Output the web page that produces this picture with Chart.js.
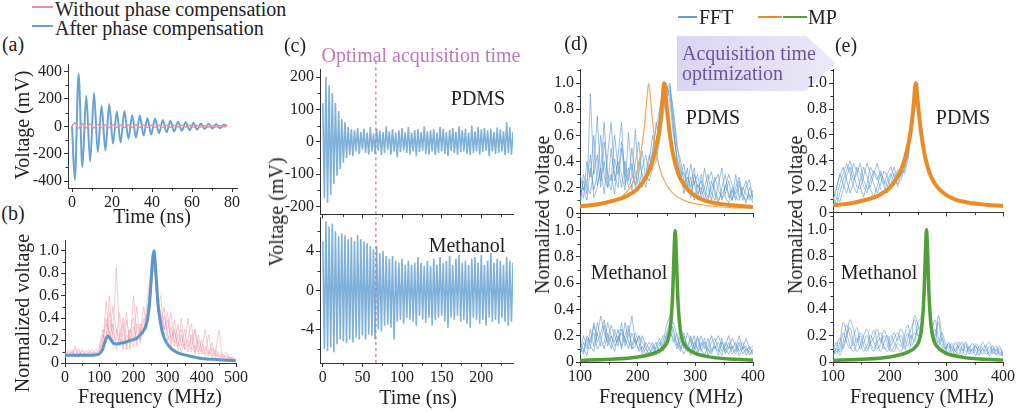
<!DOCTYPE html>
<html>
<head>
<meta charset="utf-8">
<script src="https://cdn.jsdelivr.net/npm/chart.js@4.4.0/dist/chart.umd.min.js"></script>
<style>
html, body { margin: 0; padding: 0; background: #fff; }
#fig { position: relative; width: 1020px; height: 412px; overflow: hidden;
  font-family: "Liberation Serif", "Times New Roman", serif; color: #222; }
canvas { position: absolute; }
.t { position: absolute; white-space: nowrap; transform: translate(-50%, -50%); font-size: 20px; line-height: 1; }
.l { position: absolute; white-space: nowrap; transform: translateY(-50%); font-size: 20px; line-height: 1; }
.rot { transform: translate(-50%, -50%) rotate(-90deg); }
.key { position: absolute; height: 0; border-top: 2px solid; }
svg { position: absolute; left: 0; top: 0; }
</style>
</head>
<body>
<div id="fig">
  <svg width="1020" height="412">
    <defs>
      <linearGradient id="arrowFill" x1="0" x2="1" y1="0" y2="0">
        <stop offset="0" stop-color="#dbd5f1"/>
        <stop offset="1" stop-color="#ece9f8"/>
      </linearGradient>
    </defs>
    <polygon points="677,36 806,36 836,63 806,91 677,91" fill="url(#arrowFill)"/>
  </svg>

  <canvas id="chart-a"></canvas>
  <canvas id="chart-b"></canvas>
  <canvas id="chart-c-bot"></canvas>
  <canvas id="chart-c-top"></canvas>
  <canvas id="chart-d-bot"></canvas>
  <canvas id="chart-d-top"></canvas>
  <canvas id="chart-e-bot"></canvas>
  <canvas id="chart-e-top"></canvas>

  <!-- legends -->
  <div class="key" style="left:32px;top:6px;width:21px;border-color:#ec91a5"></div>
  <div class="l" style="left:55px;top:9px">Without phase compensation</div>
  <div class="key" style="left:32px;top:25px;width:21px;border-color:#6aa3cf"></div>
  <div class="l" style="left:55px;top:28px">After phase compensation</div>

  <div class="key" style="left:678px;top:16px;width:19px;border-color:#64a0d2"></div>
  <div class="l" style="left:699px;top:17px">FFT</div>
  <div class="key" style="left:758px;top:16px;width:24px;border-color:#e88c23"></div>
  <div class="key" style="left:783px;top:16px;width:24px;border-color:#50a037"></div>
  <div class="l" style="left:808px;top:17px">MP</div>

  <div class="l" style="left:682px;top:53px;color:#6955a5">Acquisition time</div>
  <div class="l" style="left:682px;top:73px;color:#6955a5">optimization</div>

  <!-- panel letters -->
  <div class="t" style="left:13px;top:44px">(a)</div>
  <div class="t" style="left:13px;top:213px">(b)</div>
  <div class="t" style="left:295px;top:45px">(c)</div>
  <div class="t" style="left:576px;top:43px">(d)</div>
  <div class="t" style="left:846px;top:45px">(e)</div>

  <!-- axis titles -->
  <div class="t" style="left:152px;top:216px">Time (ns)</div>
  <div class="t rot" style="left:22px;top:125px">Voltage (mV)</div>
  <div class="t" style="left:150px;top:396px">Frequency (MHz)</div>
  <div class="t rot" style="left:22px;top:313px">Normalized voltage</div>
  <div class="t" style="left:418px;top:397px">Time (ns)</div>
  <div class="t rot" style="left:276px;top:212px">Voltage (mV)</div>
  <div class="t" style="left:671px;top:396px">Frequency (MHz)</div>
  <div class="t rot" style="left:542px;top:215px">Normalized voltage</div>
  <div class="t" style="left:922px;top:396px">Frequency (MHz)</div>
  <div class="t rot" style="left:795px;top:215px">Normalized voltage</div>

  <!-- annotations -->
  <div class="t" style="left:421px;top:55px;color:#b97bb9">Optimal acquisition time</div>
  <div class="t" style="left:478px;top:98px">PDMS</div>
  <div class="t" style="left:467px;top:245px">Methanol</div>
  <div class="t" style="left:713px;top:117px">PDMS</div>
  <div class="t" style="left:629px;top:272px">Methanol</div>
  <div class="t" style="left:963px;top:117px">PDMS</div>
  <div class="t" style="left:879px;top:272px">Methanol</div>
</div>

<script>
// ---------- (a) time signal ----------
var timeA = [0, 1.4, 3.3, 5.2, 7.1, 9.1, 11.0, 12.9, 14.8, 16.7,
  18.6, 20.5, 22.4, 24.3, 26.2, 28.2, 30.1, 32.0, 33.9, 35.8,
  37.7, 39.6, 41.5, 43.5, 45.4, 47.3, 49.2, 51.1, 53.0, 54.9,
  56.8, 58.8, 60.7, 62.6, 64.5, 66.4, 68.3, 70.2, 72.1, 74.1,
  76.0, 77.5];
var afterComp = [0, -390, 382, -298, 222, -258, 244, -188, 148, -176,
  162, -126, 108, -118, 112, -92, 80, -84, 78, -68,
  58, -60, 56, -50, 46, -44, 40, -38, 34, -32,
  30, -28, 24, -24, 20, -20, 18, -16, 16, -14,
  12, 0];
var withoutComp = [0, 26, -14, 20, -12, 16, -12, 14, -10, 12,
  -10, 12, -9, 10, -9, 10, -8, 9, -8, 9,
  -8, 8, -7, 8, -7, 8, -7, 7, -6, 7,
  -6, 7, -6, 6, -6, 6, -5, 6, -5, 5,
  -5, 0];

// ---------- (b) spectra ----------
var bFreq = [0, 10, 20, 30, 40, 50, 60, 70, 80, 90,
  100, 110, 120, 130, 140, 150, 160, 170, 180, 190,
  200, 210, 220, 230, 240, 250, 260, 270, 280, 290,
  300, 310, 320, 330, 340, 350, 360, 370, 380, 390,
  400, 410, 420, 430, 440, 450, 460, 470, 480, 490, 500];
var bWithout = [
  [0.08,0.10,0.06,0.12,0.07,0.09,0.05,0.10,0.08,0.12,
   0.10,0.22,0.35,0.28,0.18,0.30,0.22,0.15,0.25,0.18,
   0.32,0.20,0.28,0.40,0.35,0.60,0.95,0.55,0.45,0.30,
   0.38,0.22,0.30,0.15,0.25,0.12,0.20,0.10,0.16,0.08,
   0.12,0.06,0.10,0.05,0.08,0.04,0.06,0.03,0.05,0.03,0.02],
  [0.05,0.07,0.12,0.05,0.10,0.06,0.11,0.07,0.05,0.09,
   0.06,0.15,0.55,0.20,0.35,0.12,0.25,0.40,0.15,0.30,
   0.22,0.50,0.18,0.30,0.45,0.70,0.90,0.60,0.35,0.50,
   0.20,0.32,0.18,0.35,0.15,0.30,0.10,0.25,0.08,0.20,
   0.10,0.15,0.06,0.12,0.05,0.08,0.04,0.06,0.03,0.04,0.02],
  [0.10,0.05,0.08,0.15,0.06,0.12,0.08,0.05,0.10,0.06,
   0.14,0.30,0.18,0.45,0.25,0.85,0.20,0.35,0.12,0.28,
   0.40,0.15,0.35,0.25,0.55,0.80,1.00,0.65,0.40,0.30,
   0.45,0.18,0.28,0.12,0.40,0.15,0.22,0.35,0.10,0.25,
   0.12,0.30,0.08,0.18,0.06,0.10,0.05,0.07,0.04,0.05,0.03],
  [0.06,0.12,0.09,0.07,0.13,0.05,0.08,0.12,0.06,0.10,
   0.08,0.25,0.20,0.60,0.15,0.22,0.45,0.12,0.38,0.20,
   0.15,0.35,0.28,0.50,0.30,0.65,0.85,0.70,0.30,0.42,
   0.25,0.15,0.38,0.20,0.10,0.18,0.40,0.12,0.30,0.10,
   0.20,0.08,0.25,0.06,0.12,0.05,0.09,0.04,0.05,0.03,0.02],
  [0.09,0.06,0.10,0.08,0.05,0.11,0.07,0.09,0.12,0.07,
   0.09,0.18,0.40,0.25,0.50,0.30,0.15,0.28,0.45,0.12,
   0.60,0.25,0.20,0.38,0.42,0.75,0.92,0.50,0.60,0.25,
   0.30,0.45,0.15,0.25,0.30,0.12,0.15,0.20,0.30,0.15,
   0.08,0.12,0.10,0.14,0.08,0.30,0.06,0.10,0.05,0.04,0.02]
];
var bAfterFreq = [0, 20, 50, 80, 100, 110, 118, 125, 132, 140, 150, 170, 190, 210, 225, 235,
  242, 248, 252, 256, 260, 264, 268, 272, 278, 285, 295, 310, 330, 360, 400, 450, 500];
var bAfterVal = [0.07, 0.07, 0.07, 0.07, 0.08, 0.12, 0.20, 0.24, 0.22, 0.18, 0.17, 0.18, 0.20, 0.22, 0.27, 0.32,
  0.40, 0.56, 0.74, 0.92, 1.00, 0.88, 0.70, 0.52, 0.38, 0.27, 0.19, 0.13, 0.09, 0.065, 0.04, 0.03, 0.02];

// ---------- (c) time signals ----------
var cTime = [0,2,4,6,8,10,12,14,16,18, 20,22,24,26,28,30,32,34,36,38,
  40,42,44,46,48,50,52,54,56,58, 60,62,64,66,68,70,72,74,76,78,
  80,82,84,86,88,90,92,94,96,98, 100,102,104,106,108,110,112,114,116,118,
  120,122,124,126,128,130,132,134,136,138, 140,142,144,146,148,150,152,154,156,158,
  160,162,164,166,168,170,172,174,176,178, 180,182,184,186,188,190,192,194,196,198,
  200,202,204,206,208,210,212,214,216,218, 220,222,224,226,228,230,232,234,236,238, 240];
var cPDMS = [120,-175,200,-190,175,-165,150,-130,120,-105,
  95,-85,70,-65,60,-50,45,-42,38,-45,
  35,-30,42,-38,30,-25,40,-35,28,-40,
  45,-30,25,-38,40,-28,35,-42,30,-35,
  48,-25,32,-40,38,-30,28,-48,35,-32,
  42,-28,30,-35,45,-40,28,-30,36,-45,
  40,-32,30,-28,48,-38,32,-40,35,-30,
  38,-42,28,-35,45,-30,40,-38,30,-45,
  36,-28,42,-35,30,-40,48,-32,35,-30,
  40,-38,28,-42,50,-35,32,-30,45,-40,
  38,-32,42,-28,35,-45,40,-30,30,-38,
  44,-35,38,-30,32,-42,60,-35,45,-40, 30];
var cMethanol = [5,-6,7,-6.2,6.5,-5.8,6.8,-6.3,6,-5.5,
  5.5,-5,5.8,-5.2,5.6,-5.4,5.2,-5,5.4,-5.3,
  5,-4.8,5.6,-5,5.2,-4.6,5,-5,4.8,-4.5,
  4.5,-4.6,4.2,-5,4.5,-4,3.8,-4.2,4,-3.6,
  3.5,-3.5,3.2,-3.8,3.5,-5,3,-3.2,2.8,-3,
  3.2,-3.4,2.6,-2.8,3,-3,2.6,-3.2,2.8,-3.6,
  3.4,-2.6,2.8,-3,2.5,-3.3,3,-2.8,2.5,-3.6,
  3.2,-3,2.6,-2.8,3.4,-2.6,2.8,-3.2,3,-3.8,
  3.5,-2.8,2.6,-3,3.2,-2.6,3.6,-3.2,2.8,-3,
  3,-3.4,2.6,-3.8,3.2,-2.8,3.4,-3,2.8,-3.4,
  3.6,-3,2.6,-3.6,3,-2.8,3.8,-3.2,2.8,-3,
  3.2,-3.4,3,-2.8,2.6,-3.2,3.4,-3.6,3,-3.2, 2.8];
var optimalTime = 67;

// ---------- (d)/(e) spectra ----------
var dFreq = [100,106,112,118,124,130,136,142,148,154, 160,166,172,178,184,190,196,202,208,214,
  220,226,232,238,244,250,256,262,268,274, 280,286,292,298,304,310,316,322,328,334,
  340,346,352,358,364,370,376,382,388,394, 400];
var dPdmsFFT = [
  [0.10,0.25,0.15,0.92,0.30,0.45,0.20,0.55,0.30,0.25, 0.60,0.35,0.20,0.40,0.25,0.50,0.30,0.20,0.35,0.45,
   0.30,0.50,0.65,0.80,0.95,1.00,0.85,0.60,0.45,0.30, 0.20,0.35,0.15,0.25,0.10,0.30,0.18,0.12,0.25,0.15,
   0.08,0.20,0.30,0.12,0.18,0.10,0.22,0.14,0.08,0.20, 0.12],
  [0.20,0.12,0.40,0.28,0.60,0.22,0.35,0.15,0.45,0.70, 0.30,0.20,0.50,0.28,0.35,0.18,0.40,0.55,0.25,0.30,
   0.45,0.38,0.55,0.70,0.88,0.98,0.90,0.70,0.38,0.25, 0.32,0.18,0.28,0.10,0.22,0.15,0.35,0.20,0.10,0.28,
   0.18,0.12,0.15,0.25,0.10,0.30,0.12,0.20,0.15,0.10, 0.18],
  [0.05,0.30,0.20,0.15,0.35,0.75,0.25,0.40,0.20,0.30, 0.15,0.45,0.70,0.22,0.30,0.38,0.20,0.30,0.48,0.25,
   0.40,0.60,0.50,0.75,0.90,0.95,1.00,0.75,0.50,0.42, 0.25,0.20,0.38,0.22,0.30,0.12,0.20,0.30,0.15,0.10,
   0.22,0.35,0.12,0.08,0.20,0.15,0.25,0.10,0.20,0.26, 0.10],
  [0.15,0.20,0.10,0.35,0.18,0.30,0.60,0.28,0.20,0.50, 0.25,0.40,0.30,0.18,0.62,0.30,0.22,0.40,0.30,0.20,
   0.35,0.45,0.70,0.60,0.82,0.90,0.95,0.80,0.55,0.35, 0.15,0.28,0.20,0.35,0.15,0.20,0.10,0.25,0.32,0.18,
   0.10,0.15,0.20,0.30,0.22,0.12,0.10,0.18,0.25,0.12, 0.15],
  [0.30,0.18,0.25,0.45,0.12,0.20,0.35,0.70,0.25,0.18, 0.42,0.30,0.55,0.35,0.20,0.28,0.65,0.25,0.20,0.30,
   0.25,0.35,0.40,0.55,0.75,0.92,0.98,0.65,0.42,0.28, 0.38,0.22,0.12,0.30,0.20,0.25,0.15,0.10,0.20,0.25,
   0.30,0.10,0.22,0.15,0.10,0.20,0.28,0.15,0.10,0.15, 0.08]
];
var dMethFFT = [
  [0.05,0.15,0.10,0.25,0.12,0.30,0.18,0.10,0.22,0.15, 0.08,0.20,0.12,0.30,0.15,0.10,0.18,0.08,0.12,0.06,
   0.10,0.15,0.08,0.12,0.20,0.18,0.28,0.30,0.20,0.10, 0.15,0.08,0.20,0.12,0.06,0.15,0.10,0.18,0.08,0.12,
   0.05,0.15,0.10,0.06,0.12,0.08,0.15,0.06,0.10,0.08, 0.05],
  [0.12,0.06,0.20,0.15,0.28,0.20,0.35,0.22,0.15,0.28, 0.20,0.12,0.25,0.18,0.10,0.22,0.14,0.20,0.08,0.15,
   0.10,0.05,0.12,0.18,0.10,0.22,0.30,0.25,0.12,0.20, 0.10,0.22,0.15,0.08,0.18,0.10,0.05,0.12,0.20,0.10,
   0.15,0.08,0.12,0.20,0.10,0.06,0.12,0.15,0.08,0.12, 0.06],
  [0.08,0.20,0.12,0.10,0.30,0.15,0.22,0.32,0.18,0.10, 0.25,0.15,0.30,0.12,0.20,0.35,0.15,0.10,0.20,0.12,
   0.05,0.10,0.15,0.06,0.15,0.28,0.35,0.20,0.15,0.08, 0.20,0.12,0.05,0.15,0.10,0.20,0.12,0.08,0.15,0.18,
   0.10,0.05,0.15,0.10,0.18,0.12,0.05,0.10,0.18,0.10, 0.08],
  [0.15,0.10,0.05,0.18,0.22,0.10,0.15,0.28,0.12,0.20, 0.15,0.25,0.10,0.20,0.28,0.12,0.22,0.15,0.06,0.10,
   0.15,0.12,0.05,0.10,0.12,0.20,0.25,0.15,0.22,0.12, 0.06,0.12,0.18,0.10,0.20,0.08,0.15,0.10,0.06,0.15,
   0.20,0.12,0.08,0.15,0.06,0.10,0.20,0.10,0.12,0.05, 0.10],
  [0.10,0.08,0.18,0.12,0.08,0.22,0.12,0.15,0.30,0.20, 0.12,0.18,0.22,0.15,0.25,0.10,0.12,0.20,0.15,0.10,
   0.06,0.12,0.10,0.15,0.08,0.15,0.22,0.18,0.10,0.15, 0.22,0.10,0.12,0.20,0.08,0.12,0.18,0.05,0.10,0.12,
   0.08,0.18,0.06,0.12,0.10,0.15,0.08,0.12,0.05,0.10, 0.12]
];
// (e) PDMS FFT traces use the first 26 points of dFreq (100-250 MHz)
var ePdmsFFT = [
  [0.08,0.20,0.28,0.35,0.25,0.15,0.22,0.35,0.30,0.20, 0.15,0.25,0.32,0.28,0.18,0.15,0.25,0.30,0.22,0.28, 0.35,0.30,0.40,0.60,0.85,1.00],
  [0.05,0.10,0.22,0.30,0.38,0.30,0.20,0.15,0.25,0.35, 0.28,0.18,0.12,0.20,0.30,0.25,0.20,0.28,0.35,0.25, 0.30,0.32,0.45,0.62,0.88,1.00],
  [0.12,0.06,0.15,0.25,0.32,0.40,0.30,0.20,0.18,0.28, 0.38,0.30,0.22,0.15,0.22,0.32,0.28,0.18,0.25,0.33, 0.28,0.38,0.42,0.65,0.90,0.98],
  [0.15,0.12,0.08,0.18,0.28,0.35,0.25,0.30,0.38,0.25, 0.18,0.20,0.30,0.38,0.28,0.20,0.15,0.22,0.30,0.22, 0.25,0.35,0.50,0.70,0.92,1.00],
  [0.10,0.18,0.30,0.22,0.15,0.25,0.38,0.32,0.20,0.12, 0.22,0.35,0.30,0.25,0.32,0.22,0.30,0.35,0.28,0.20, 0.30,0.38,0.48,0.58,0.80,0.97]
];
var eMethFreq = [100,106,112,118,124,130,136,142,148,154, 160,166,172,178,184,190,196,202,208,214,
  220,226,232,238,244,250,256, 260,263,265,267,270,
  274,280,286,292,298,304,310,316,322,328,334,340,346,352,358,364,370,376,382,388,394,400];
var eMethFFT = [
  [0.05,0.10,0.08,0.15,0.28,0.20,0.12,0.18,0.10,0.15, 0.20,0.12,0.08,0.15,0.18,0.10,0.12,0.20,0.15,0.10,
   0.08,0.15,0.22,0.12,0.18,0.25,0.30, 0.50,0.85,1.00,0.85,0.50,
   0.30,0.20,0.30,0.15,0.10,0.12,0.08,0.15,0.10,0.06,0.12,0.08,0.10,0.05,0.12,0.10,0.06,0.08,0.12,0.05,0.08,0.04],
  [0.10,0.06,0.15,0.30,0.22,0.12,0.08,0.14,0.22,0.18, 0.10,0.16,0.24,0.15,0.08,0.14,0.20,0.12,0.18,0.22,
   0.15,0.10,0.18,0.25,0.32,0.20,0.28, 0.48,0.82,0.98,0.80,0.48,
   0.25,0.32,0.18,0.12,0.08,0.15,0.10,0.06,0.12,0.15,0.08,0.10,0.14,0.08,0.05,0.10,0.12,0.06,0.10,0.08,0.12,0.05],
  [0.03,0.12,0.18,0.10,0.20,0.26,0.15,0.08,0.12,0.20, 0.25,0.15,0.10,0.18,0.22,0.12,0.08,0.15,0.22,0.16,
   0.20,0.12,0.08,0.15,0.35,0.28,0.22, 0.52,0.88,1.00,0.86,0.52,
   0.22,0.15,0.35,0.20,0.12,0.06,0.12,0.08,0.15,0.10,0.05,0.12,0.08,0.14,0.10,0.06,0.12,0.15,0.08,0.06,0.10,0.06],
  [0.08,0.15,0.05,0.12,0.20,0.32,0.25,0.15,0.20,0.12, 0.08,0.14,0.18,0.25,0.15,0.20,0.14,0.08,0.12,0.18,
   0.25,0.18,0.12,0.20,0.15,0.30,0.35, 0.55,0.86,1.00,0.84,0.52,
   0.28,0.18,0.15,0.22,0.15,0.10,0.14,0.08,0.06,0.12,0.15,0.10,0.06,0.12,0.08,0.15,0.10,0.05,0.08,0.12,0.06,0.05],
  [0.12,0.08,0.10,0.22,0.15,0.10,0.18,0.26,0.15,0.08, 0.12,0.20,0.15,0.10,0.14,0.24,0.18,0.10,0.08,0.14,
   0.12,0.20,0.28,0.18,0.22,0.20,0.25, 0.50,0.84,0.99,0.82,0.50,
   0.20,0.25,0.12,0.18,0.10,0.14,0.06,0.10,0.12,0.08,0.14,0.06,0.10,0.12,0.06,0.10,0.08,0.12,0.06,0.10,0.05,0.08]
];

// MP fits
var mpPdmsFreq = [100,130,160,180,200,212,222,230,236,240,243,246,249,252,256,262,270,280,295,315,340,370,400];
var mpPdmsVal  = [0.055,0.07,0.10,0.13,0.19,0.26,0.35,0.47,0.60,0.73,0.87,1.00,0.88,0.75,0.60,0.44,0.31,0.22,0.15,0.10,0.075,0.06,0.05];
var mpShiftFreq = [100,130,160,180,195,205,212,216,219,222,226,232,240,250,262,280,300,330,360,400];
var mpShiftVal  = [0.045,0.06,0.10,0.16,0.27,0.45,0.68,0.88,1.00,0.90,0.70,0.48,0.32,0.22,0.15,0.10,0.075,0.055,0.045,0.04];
var mpMethFreq = [100,150,200,230,245,252,256,259,261,263,265,267,269,271,274,278,285,300,330,360,400];
var mpMethVal  = [0.012,0.02,0.038,0.07,0.11,0.16,0.24,0.38,0.55,0.82,1.00,0.82,0.55,0.38,0.24,0.16,0.11,0.065,0.035,0.022,0.015];

// ---------- styling ----------
var FONT = { family: '"Liberation Serif", "Times New Roman", serif', size: 16 };
var AXIS = '#333';
var BLUE_A = '#6aa3cf', PINK_A = '#ec91a5';
var FFT_BLUE = 'rgba(90,150,205,0.6)';
var WAVE_BLUE = 'rgba(95,158,208,0.8)';
var ORANGE = '#e88c23', GREEN = '#50a037';

function pts(xs, ys) {
    return ys.map(function (y, i) { return { x: xs[i], y: y }; });
}

function fmtInt(v) { return String(v); }
function fmtNorm(v) { return v === 0 ? '0' : v.toFixed(1); }
function noLabel() { return ''; }

function axis(kind, min, max, step, fmt, size) {
    return {
        type: 'linear', min: min, max: max,
        border: { display: true, color: AXIS, width: 1 },
        grid: { drawOnChartArea: false, drawTicks: true, tickLength: 4, color: AXIS },
        ticks: { stepSize: step, includeBounds: false, autoSkip: false, maxRotation: 0,
                 padding: kind === 'x' ? 1 : 2, color: '#222', font: FONT, callback: fmt },
        afterFit: function (s) { if (kind === 'x') s.height = size; else s.width = size; }
    };
}

function line(data, color, width, smooth) {
    return {
        data: data, borderColor: color, borderWidth: width, fill: false,
        pointRadius: 0, tension: 0,
        cubicInterpolationMode: smooth ? 'monotone' : 'default'
    };
}

// short minor ticks half way between the labelled ones
var minorTicks = {
    id: 'minorTicks',
    afterDraw: function (chart) {
        var ctx = chart.ctx, area = chart.chartArea;
        ctx.save();
        ctx.strokeStyle = AXIS;
        ctx.lineWidth = 1;
        ['x', 'y'].forEach(function (id) {
            var s = chart.scales[id];
            if (!s || s.ticks.length < 2) return;
            var step = s.ticks[1].value - s.ticks[0].value;
            for (var v = s.ticks[0].value - step / 2; v <= s.max; v += step) {
                if (v < s.min) continue;
                var p = Math.round(s.getPixelForValue(v)) + 0.5;
                ctx.beginPath();
                if (id === 'x') { ctx.moveTo(p, area.bottom); ctx.lineTo(p, area.bottom + 2.5); }
                else { ctx.moveTo(area.left, p); ctx.lineTo(area.left - 2.5, p); }
                ctx.stroke();
            }
        });
        ctx.restore();
    }
};

function makeChart(id, box, xAxis, yAxis, datasets) {
    var c = document.getElementById(id);
    var w = box.r - box.l + box.yw + box.pr;
    var h = box.b - box.t + box.pt + box.xh;
    c.width = w; c.height = h;
    c.style.width = w + 'px'; c.style.height = h + 'px';
    c.style.left = (box.l - box.yw) + 'px';
    c.style.top = (box.t - box.pt) + 'px';
    var n = datasets.length;
    datasets.forEach(function (d, i) { d.order = n - i; });   // later in list = drawn on top
    return new Chart(c, {
        type: 'line',
        data: { datasets: datasets },
        options: {
            responsive: false, animation: false, events: [],
            layout: { padding: { top: box.pt, right: box.pr, left: 0, bottom: 0 } },
            plugins: { legend: { display: false }, tooltip: { enabled: false } },
            scales: { x: xAxis, y: yAxis }
        },
        plugins: [minorTicks]
    });
}

// ---------- (a) ----------
makeChart('chart-a', { l: 68, r: 237, t: 63, b: 188, yw: 40, xh: 28, pt: 10, pr: 14 },
    axis('x', -2, 82.5, 20, fmtInt, 28),
    axis('y', -450, 450, 200, fmtInt, 40),
    [line(pts(timeA, afterComp), BLUE_A, 2, true),
     line(pts(timeA, withoutComp), PINK_A, 1.5, true)]);

// ---------- (b) ----------
var bSets = bWithout.map(function (tr) { return line(pts(bFreq, tr), 'rgba(240,140,162,0.45)', 1, false); });
bSets.push(line(pts(bAfterFreq, bAfterVal), '#5f96c8', 3, true));
makeChart('chart-b', { l: 65, r: 236, t: 239, b: 363, yw: 40, xh: 28, pt: 10, pr: 14 },
    axis('x', 0, 500, 100, fmtInt, 28),
    axis('y', 0, 1.09, 0.2, fmtNorm, 40),
    bSets);

// ---------- (c) ----------
var dash = function (y0, y1) {
    var d = line([{ x: optimalTime, y: y0 }, { x: optimalTime, y: y1 }], '#b97bb9', 1.3, false);
    d.borderDash = [3, 3];
    d.clip = { left: 0, right: 0, top: 10, bottom: 0 };
    return d;
};
makeChart('chart-c-top', { l: 320, r: 513, t: 69, b: 216, yw: 44, xh: 10, pt: 14, pr: 14 },
    axis('x', -3.5, 240, 50, noLabel, 10),
    axis('y', -225, 225, 100, fmtInt, 44),
    [line(pts(cTime, cPDMS), WAVE_BLUE, 1.6, false), dash(-225, 250)]);
makeChart('chart-c-bot', { l: 320, r: 513, t: 216, b: 363, yw: 44, xh: 28, pt: 10, pr: 14 },
    axis('x', -3.5, 240, 50, fmtInt, 28),
    axis('y', -7.4, 7.4, 4, fmtInt, 44),
    [line(pts(cTime, cMethanol), WAVE_BLUE, 1.6, false), dash(-7.4, 7.4)]);

// ---------- (d) ----------
var dTop = dPdmsFFT.map(function (tr) { return line(pts(dFreq, tr), FFT_BLUE, 1, false); });
dTop.push(line(pts(mpShiftFreq, mpShiftVal), 'rgba(236,160,70,0.9)', 1.2, true));
dTop.push(line(pts(mpPdmsFreq, mpPdmsVal), ORANGE, 4, true));
makeChart('chart-d-top', { l: 580, r: 753, t: 68, b: 215, yw: 40, xh: 10, pt: 10, pr: 14 },
    axis('x', 100, 400, 100, noLabel, 10),
    axis('y', 0, 1.105, 0.2, fmtNorm, 40),
    dTop);
var dBot = dMethFFT.map(function (tr) { return line(pts(dFreq, tr), FFT_BLUE, 1, false); });
dBot.push(line(pts(mpMethFreq, mpMethVal), GREEN, 3.5, true));
makeChart('chart-d-bot', { l: 580, r: 753, t: 215, b: 362, yw: 40, xh: 28, pt: 10, pr: 14 },
    axis('x', 100, 400, 100, fmtInt, 28),
    axis('y', 0, 1.105, 0.2, fmtNorm, 40),
    dBot);

// ---------- (e) ----------
var eTop = ePdmsFFT.map(function (tr) { return line(pts(dFreq, tr), FFT_BLUE, 1, false); });
eTop.push(line(pts(mpPdmsFreq, mpPdmsVal), ORANGE, 4, true));
makeChart('chart-e-top', { l: 833, r: 1003, t: 68, b: 214, yw: 40, xh: 10, pt: 10, pr: 14 },
    axis('x', 100, 400, 100, noLabel, 10),
    axis('y', 0, 1.105, 0.2, fmtNorm, 40),
    eTop);
var eBot = eMethFFT.map(function (tr) { return line(pts(eMethFreq, tr), FFT_BLUE, 1, true); });
eBot.push(line(pts(mpMethFreq, mpMethVal), GREEN, 3.5, true));
makeChart('chart-e-bot', { l: 833, r: 1003, t: 214, b: 362, yw: 40, xh: 28, pt: 10, pr: 14 },
    axis('x', 100, 400, 100, fmtInt, 28),
    axis('y', 0, 1.105, 0.2, fmtNorm, 40),
    eBot);
</script>
</body>
</html>
